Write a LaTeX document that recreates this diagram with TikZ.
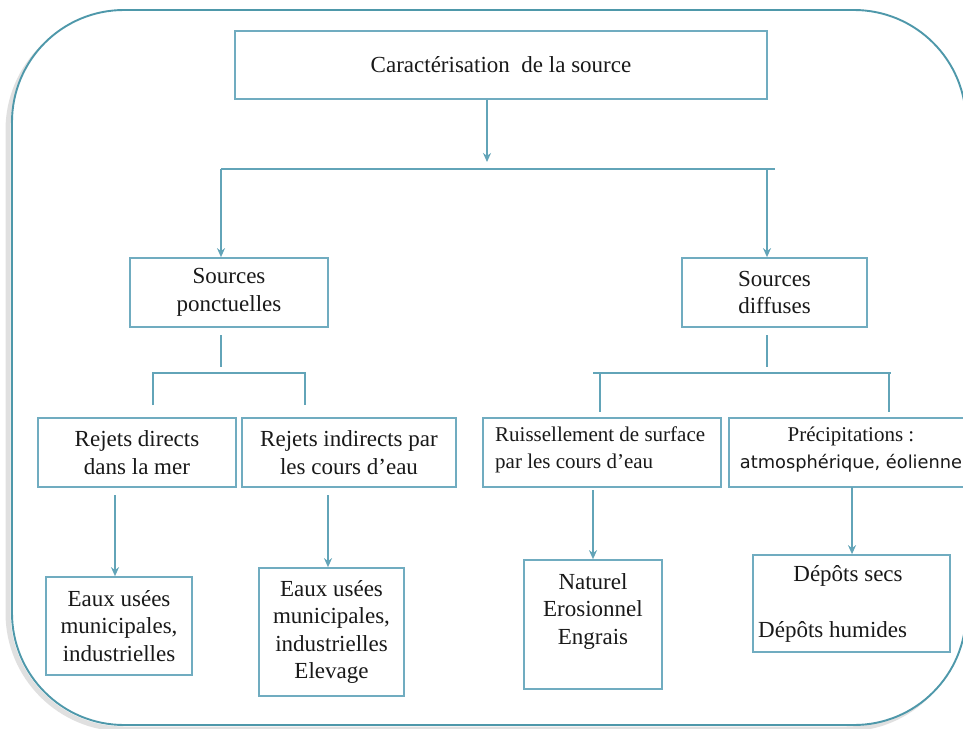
\documentclass[tikz,border=0pt]{standalone}
\usepackage{fontspec}
\setmainfont{Liberation Serif}
\newfontfamily\sansf{DejaVu Sans}
\usetikzlibrary{arrows.meta,calc}
\definecolor{outerc}{RGB}{78,152,170}
\definecolor{boxc}{RGB}{112,172,192}
\definecolor{linec}{RGB}{98,164,184}
\definecolor{inkc}{RGB}{25,25,25}
\begin{document}
\begin{tikzpicture}[x=1pt,y=-1pt,
  box/.style={draw=boxc, line width=1.7pt, rectangle, inner sep=0pt},
  conn/.style={draw=linec, line width=1.9pt},
  arr/.style={conn, -{Stealth[length=9pt,width=8pt]}},
  txt/.style={font=\fontsize{23}{27.5}\selectfont, text=inkc, align=center, inner sep=0pt},
  ftxt/.style={font=\fontsize{21}{27}\selectfont, text=inkc, inner sep=0pt}]
\path[use as bounding box] (0,0) rectangle (963,728);
\begin{scope}
\clip (0,0) rectangle (963,728);
\fill[white] (0,0) rectangle (963,728);
\draw[black!12, line width=5pt, rounded corners=116pt] (8,14) rectangle (962,729);
\fill[white, rounded corners=112pt] (12,10) rectangle (966,725);
\draw[outerc, line width=1.9pt, rounded corners=112pt] (12,10) rectangle (966,725);

% boxes
\node[box, txt, minimum width=532pt, minimum height=68pt] (top) at (501,65) {Caractérisation\ \ de la source};
\node[box, txt, minimum width=198pt, minimum height=69pt] (sp) at (229,292.5) {Sources\\ponctuelles};
\node[box, txt, minimum width=185pt, minimum height=69pt] (sd) at (774.5,292.5) {Sources\\diffuses};
\node[box, txt, minimum width=198pt, minimum height=69pt] (rd) at (137,452.5) {Rejets directs\\dans la mer};
\node[box, txt, minimum width=214pt, minimum height=69pt] (ri) at (349,452.5) {Rejets indirects par\\les cours d’eau};
\node[box, minimum width=238pt, minimum height=69pt] (ru) at (602,452.5) {};
\node[ftxt, align=left, anchor=west] (rut) at (495,450) {Ruissellement de surface\\par les cours d’eau};
\node[box, minimum width=241pt, minimum height=69pt] (pr) at (849.5,452.5) {};
\node[ftxt, align=center] (prt) at (851,450) {Précipitations :\\{\sansf\fontsize{17.8}{27}\selectfont atmosphérique, éolienne}};
\node[box, txt, minimum width=146pt, minimum height=98pt] (e1) at (119,626) {Eaux usées\\municipales,\\industrielles};
\node[box, txt, minimum width=145pt, minimum height=128pt] (e2) at (331.5,632) {Eaux usées\\municipales,\\industrielles\\Elevage};
\node[box, minimum width=138pt, minimum height=129pt] (na) at (593,624.5) {};
\node[txt] (nat) at (593,611) {Naturel\\Erosionnel\\Engrais};
\node[box, minimum width=197pt, minimum height=97pt] (de) at (851.5,603.5) {};
\node[txt] (de1) at (848,576) {Dépôts secs};
\node[txt, anchor=west] (de2) at (758,632) {Dépôts humides};

% connectors
\coordinate (a0) at (487,162);
\draw[arr] (top.south -| a0) -- (a0);
\coordinate (b1) at (221,169);
\coordinate (b2) at (767,169);
\coordinate (b2r) at (775,169);
\draw[conn] (b1) -- (b2r);
\draw[arr] (b1) -- (b1 |- sp.north);
\draw[arr] (b2) -- (b2 |- sd.north);

\coordinate (c1) at (221,335);
\coordinate (c1e) at (221,367);
\draw[conn] (c1) -- (c1e);
\coordinate (c2l) at (153,373);
\coordinate (c2r) at (305,373);
\draw[conn, line join=miter] (153,405) -- (c2l) -- (c2r) -- (305,405);

\coordinate (d1) at (767,335);
\coordinate (d1e) at (767,367);
\draw[conn] (d1) -- (d1e);
\coordinate (d2l) at (593,373);
\coordinate (d2r) at (891,373);
\draw[conn] (d2l) -- (d2r);
\draw[conn] (600,373) -- (600,412);
\draw[conn] (889,373) -- (889,412);

\coordinate (f1) at (115,495);
\draw[arr] (f1) -- (f1 |- e1.north);
\coordinate (f2) at (328,495);
\draw[arr] (f2) -- (f2 |- e2.north);
\coordinate (f3) at (593,490);
\draw[arr] (f3) -- (f3 |- na.north);
\coordinate (f4) at (852,487);
\draw[arr] (f4) -- (f4 |- de.north);
\end{scope}
\end{tikzpicture}
\end{document}
